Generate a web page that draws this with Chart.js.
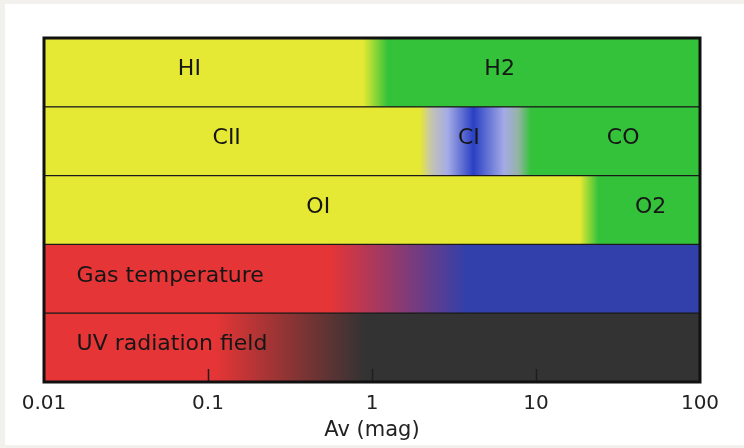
<!DOCTYPE html>
<html>
<head>
<meta charset="utf-8">
<script src="https://cdn.jsdelivr.net/npm/chart.js@4.4.1/dist/chart.umd.min.js"></script>
<style>
  html, body { margin: 0; padding: 0; background: #f2f1ed; }
  #card { position: absolute; left: 5px; top: 4px; right: 0; bottom: 3px; background: #fff; }
  #wrap { position: absolute; left: 0; top: 0; width: 744px; height: 448px; }
</style>
</head>
<body>
<div id="card"></div>
<div id="wrap"><canvas id="chart" width="744" height="448"></canvas></div>
<script>
// rows of the diagram, top to bottom
var rows = ["hydrogen", "carbon", "oxygen", "gas temperature", "UV field"];
var rowFrom = [0.01, 0.01, 0.01, 0.01, 0.01];
var rowTo = [100, 100, 100, 100, 100];

// x axis
var tickValues = [0.01, 0.1, 1, 10, 100];
var tickLabels = ["0.01", "0.1", "1", "10", "100"];
var innerTicks = [0.1, 1, 10];

// colours
var YELLOW = "#e6e933";
var GREEN = "#34c23b";
var RED = "#e63536";
var BLUE = "#3240ab";
var DARK = "#333333";
var BLUE_DEEP = "#2a40c4";
var BLUE_PALE = "#a4abe6";

// where each row changes colour (Av, mag) and the colour there
var stopsH = [0.01, 0.88, 1.25, 100];
var colorsH = [YELLOW, YELLOW, GREEN, GREEN];
var stopsC = [0.01, 1.95, 2.3, 2.9, 4.15, 6.4, 7.8, 9.3, 100];
var colorsC = [YELLOW, YELLOW, "#c4c4b2", BLUE_PALE, BLUE_DEEP, BLUE_PALE, "#94b4a4", GREEN, GREEN];
var stopsO = [0.01, 18.5, 24, 100];
var colorsO = [YELLOW, YELLOW, GREEN, GREEN];
var stopsT = [0.01, 0.55, 3.8, 100];
var colorsT = [RED, RED, BLUE, BLUE];
var stopsUV = [0.01, 0.11, 0.9, 100];
var colorsUV = [RED, RED, DARK, DARK];

var rowStops = [stopsH, stopsC, stopsO, stopsT, stopsUV];
var rowColors = [colorsH, colorsC, colorsO, colorsT, colorsUV];

// text inside the bands
var labelTexts = ["HI", "H2", "CII", "CI", "CO", "OI", "O2", "Gas temperature", "UV radiation field"];
var labelRow = [0, 0, 1, 1, 1, 2, 2, 3, 4];
var labelAv = [0.077, 6.0, 0.13, 3.9, 34, 0.47, 50, 0.0158, 0.0158];
var labelAlign = ["center", "center", "center", "center", "center", "center", "center", "left", "left"];

var FONT = "'DejaVu Sans', sans-serif";

// gradient along the x scale for one row
function rowGradient(ctx) {
  var chart = ctx.chart;
  var area = chart.chartArea;
  var i = ctx.dataIndex;
  if (!area || i === undefined) return rowColors[0][0];
  var x = chart.scales.x;
  var g = chart.ctx.createLinearGradient(area.left, 0, area.right, 0);
  rowStops[i].forEach(function(v, j) {
    var p = (x.getPixelForValue(v) - area.left) / (area.right - area.left);
    g.addColorStop(Math.min(1, Math.max(0, p)), rowColors[i][j]);
  });
  return g;
}

// labels, inner tick marks and the frame
var decor = {
  id: "decor",
  afterDatasetsDraw: function(chart) {
    var c = chart.ctx;
    var x = chart.scales.x;
    var y = chart.scales.y;
    var area = chart.chartArea;
    c.save();

    c.fillStyle = "#161616";
    c.font = "22px " + FONT;
    c.textBaseline = "middle";
    labelTexts.forEach(function(t, i) {
      c.textAlign = labelAlign[i];
      c.fillText(t, x.getPixelForValue(labelAv[i]), y.getPixelForValue(labelRow[i]) - 3);
    });

    c.strokeStyle = "#1e1e1e";
    c.lineWidth = 1.5;
    innerTicks.forEach(function(v) {
      var px = Math.round(x.getPixelForValue(v)) + 0.5;
      c.beginPath();
      c.moveTo(px, area.bottom);
      c.lineTo(px, area.bottom - 13);
      c.stroke();
    });

    c.strokeStyle = "#111";
    c.lineWidth = 3;
    c.strokeRect(area.left, area.top, area.right - area.left, area.bottom - area.top);
    c.restore();
  }
};

new Chart(document.getElementById("chart"), {
  type: "bar",
  data: {
    labels: rows,
    datasets: [{
      data: rows.map(function(r, i) { return [rowFrom[i], rowTo[i]]; }),
      backgroundColor: rowGradient,
      borderColor: "#1a1a1a",
      borderWidth: 1,
      borderSkipped: false,
      barPercentage: 1,
      categoryPercentage: 1
    }]
  },
  options: {
    indexAxis: "y",
    responsive: false,
    devicePixelRatio: 1,
    animation: false,
    layout: { padding: { left: 44, right: 44, top: 38, bottom: 0 } },
    plugins: { legend: { display: false }, tooltip: { enabled: false } },
    scales: {
      y: { display: false },
      x: {
        type: "logarithmic",
        min: 0.01,
        max: 100,
        grid: { display: false },
        border: { display: false },
        afterBuildTicks: function(scale) {
          scale.ticks = tickValues.map(function(v) { return { value: v }; });
        },
        afterFit: function(scale) { scale.height = 66; },
        ticks: {
          autoSkip: false,
          maxRotation: 0,
          padding: 2,
          color: "#222",
          font: { family: FONT, size: 20 },
          callback: function(value, index) { return tickLabels[index]; }
        },
        title: {
          display: true,
          text: "Av (mag)",
          color: "#222",
          font: { family: FONT, size: 21 },
          padding: { top: 0, bottom: 5 }
        }
      }
    }
  },
  plugins: [decor]
});
</script>
</body>
</html>
